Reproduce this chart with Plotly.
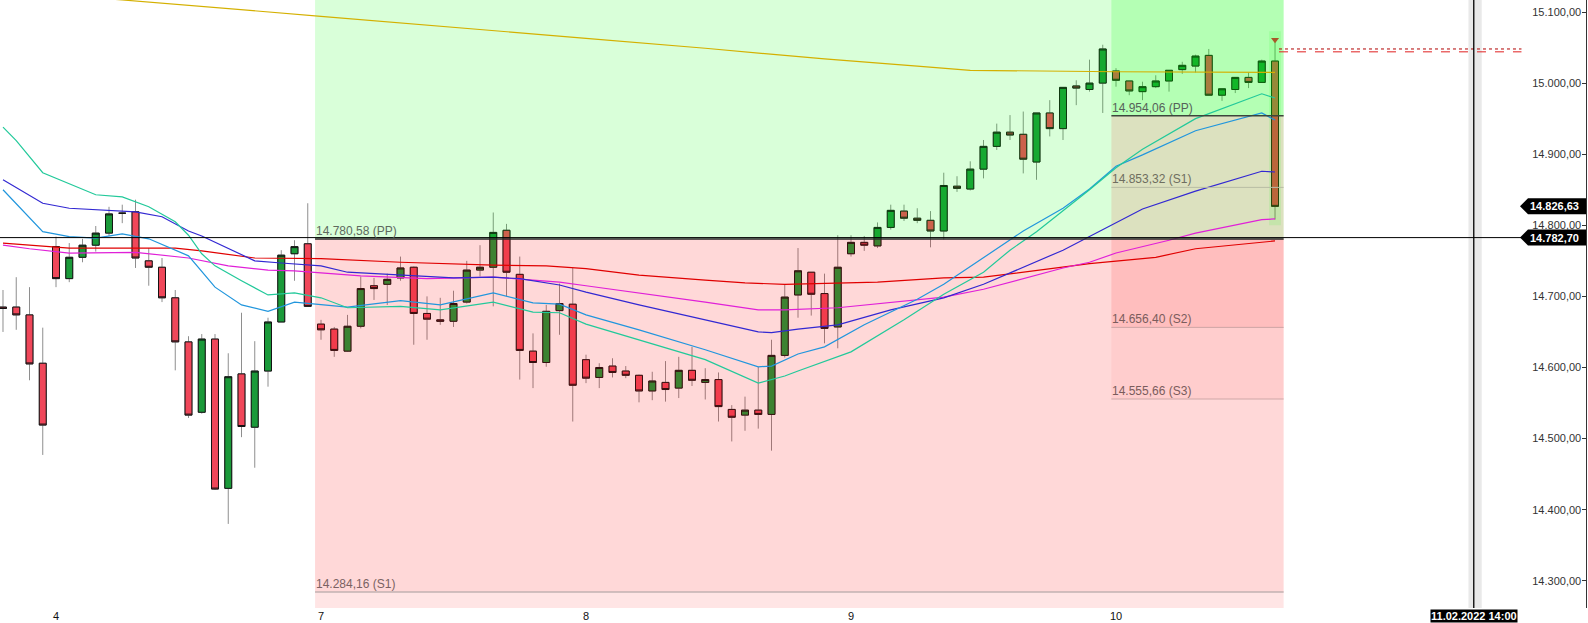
import plotly.graph_objects as go

# ---------------- data ----------------
idx = list(range(97))
opens = [14685, 14685, 14674, 14606, 14770, 14725, 14755, 14772, 14789, 14817,
         14819, 14750, 14741, 14698, 14636, 14537, 14640, 14430, 14591, 14516,
         14595, 14664, 14760, 14774,
         14661, 14654, 14623, 14658, 14715, 14717, 14726, 14741, 14676, 14667,
         14665, 14692, 14737, 14741, 14793, 14731, 14623, 14607, 14680, 14689,
         14611, 14586, 14602, 14595, 14589, 14567, 14579, 14571, 14596, 14579,
         14583, 14541, 14533, 14540, 14534, 14617, 14702, 14734, 14704, 14657,
         14760, 14776, 14771, 14797, 14820, 14810, 14807, 14792, 14855, 14851,
         14879, 14911, 14931, 14928, 14889, 14958, 14936, 14996, 14991, 15000,
         15017, 15003, 14988, 14995, 15003, 15019, 15024, 15039, 14983, 14991,
         15008, 15001, 15031]
highs = [14709, 14727, 14713, 14656, 14784, 14775, 14781, 14799, 14826, 14829,
         14836, 14768, 14754, 14709, 14644, 14647, 14647, 14620, 14677, 14637,
         14670, 14765, 14779, 14831,
         14667, 14657, 14674, 14728, 14726, 14732, 14756, 14742, 14700, 14698,
         14708, 14750, 14772, 14818, 14802, 14756, 14648, 14688, 14718, 14740,
         14618, 14606, 14613, 14602, 14590, 14594, 14609, 14615, 14629, 14599,
         14593, 14547, 14559, 14601, 14639, 14716, 14768, 14734, 14732, 14786,
         14786, 14785, 14804, 14829, 14829, 14824, 14820, 14874, 14869, 14890,
         14920, 14943, 14955, 14960, 14958, 14976, 14994, 15004, 15033, 15054,
         15021, 15003, 15002, 15011, 15018, 15030, 15040, 15048, 14992, 15008,
         15015, 15033, 15061]
lows = [14650, 14653, 14582, 14477, 14713, 14720, 14748, 14763, 14785, 14803,
        14740, 14715, 14692, 14596, 14529, 14535, 14428, 14380, 14502, 14459,
        14573, 14664, 14722, 14686,
        14639, 14615, 14622, 14655, 14695, 14688, 14722, 14632, 14639, 14660,
        14657, 14690, 14728, 14686, 14700, 14583, 14571, 14601, 14646, 14524,
        14578, 14571, 14586, 14585, 14551, 14554, 14552, 14557, 14574, 14555,
        14524, 14496, 14511, 14514, 14483, 14614, 14670, 14673, 14634, 14627,
        14756, 14764, 14768, 14794, 14806, 14803, 14769, 14780, 14847, 14849,
        14866, 14906, 14920, 14873, 14864, 14925, 14920, 14969, 14988, 14958,
        14995, 14983, 14976, 14993, 14988, 15013, 15015, 14983, 14975, 14986,
        14993, 15001, 14808]
closes = [14683, 14674, 14605, 14519, 14725, 14755, 14772, 14789, 14816, 14817,
          14754, 14741, 14698, 14636, 14533, 14640, 14429, 14587, 14517, 14595,
          14664, 14758, 14770, 14686,
          14653, 14624, 14658, 14711, 14711, 14724, 14740, 14676, 14668, 14665,
          14690, 14737, 14741, 14790, 14734, 14624, 14607, 14679, 14690, 14575,
          14585, 14600, 14593, 14589, 14567, 14581, 14569, 14596, 14582, 14583,
          14545, 14530, 14540, 14534, 14617, 14699, 14736, 14703, 14655, 14741,
          14776, 14772, 14797, 14821, 14810, 14807, 14792, 14856, 14852, 14879,
          14911, 14931, 14927, 14893, 14958, 14936, 14994, 14993, 15000, 15048,
          15004, 14989, 14995, 15003, 15018, 15025, 15038, 14983, 14992, 15008,
          15001, 15031, 14826.63]

day_tick_idx = [4, 24, 44, 64, 84]
day_tick_text = ["4", "7", "8", "9", "10"]
price_ticks = [14300, 14400, 14500, 14600, 14700, 14800, 14900, 15000, 15100]

# moving averages (candle index, value)
teal_x = [0, 1, 3, 7, 9, 11, 13, 14, 15, 16, 18, 20, 22, 24, 26, 30, 33, 37, 40, 42,
          44, 48, 53, 57, 59, 60, 64, 68, 71, 74, 76, 78, 82, 84, 86, 90, 95, 96]
teal_y = [14938, 14919, 14874, 14843, 14840, 14826, 14805, 14786, 14760, 14743, 14722,
          14702, 14705, 14698, 14684, 14686, 14681, 14692, 14678, 14677, 14661, 14639,
          14611, 14578, 14588, 14595, 14622, 14667, 14703, 14734, 14765, 14791, 14850,
          14881, 14907, 14950, 14985, 14979]
lblue_x = [0, 3, 5, 7, 9, 11, 14, 16, 18, 20, 22, 24, 26, 30, 33, 37, 40, 42, 44, 48,
           53, 57, 58, 60, 62, 65, 69, 71, 74, 75, 77, 80, 82, 84, 86, 90, 95, 96]
lblue_y = [14850, 14791, 14784, 14782, 14788, 14781, 14757, 14713, 14688, 14679, 14692,
           14689, 14685, 14694, 14688, 14705, 14691, 14689, 14674, 14653, 14625, 14601,
           14602, 14619, 14629, 14660, 14696, 14717, 14754, 14767, 14792, 14824, 14851,
           14883, 14899, 14933, 14958, 14948]
dblue_x = [0, 3, 5, 7, 10, 12, 14, 15, 17, 19, 21, 24, 26, 30, 34, 37, 39, 42, 44, 48,
           53, 57, 58, 60, 63, 67, 71, 74, 80, 82, 84, 86, 90, 95, 96]
dblue_y = [14864, 14831, 14824, 14822, 14819, 14812, 14792, 14785, 14767, 14750, 14747,
           14743, 14734, 14730, 14726, 14727, 14725, 14716, 14706, 14688, 14667, 14650,
           14649, 14654, 14660, 14681, 14698, 14717, 14765, 14784, 14803, 14823, 14848,
           14876, 14875]
magenta_x = [0, 2, 5, 10, 14, 17, 20, 22, 24, 27, 32, 37, 40, 42, 44, 48, 53, 57, 59,
             63, 67, 71, 74, 80, 82, 84, 88, 90, 95, 96]
magenta_y = [14772, 14767, 14761, 14762, 14754, 14743, 14737, 14736, 14733, 14729, 14725,
             14727, 14723, 14720, 14715, 14705, 14692, 14681, 14681, 14684, 14691, 14699,
             14710, 14740, 14748, 14761, 14779, 14789, 14808, 14809]
red_x = [0, 5, 10, 13, 15, 19, 24, 30, 37, 41, 44, 48, 53, 56, 59, 66, 71, 74, 82, 87,
         90, 95, 96]
red_y = [14775, 14768, 14768, 14768, 14764, 14754, 14753, 14748, 14744, 14743, 14739,
         14730, 14723, 14719, 14717, 14720, 14726, 14727, 14746, 14755, 14767, 14777, 14778]
gold_x = [0, 9, 24, 34, 44, 53, 62, 69, 73, 84, 96]
gold_y = [15130, 15117, 15094, 15079, 15063, 15049, 15034, 15024, 15018, 15016, 15015]

# pivot levels
pp_week = 14780.58
s1_week = 14284.16
pp_day = 14954.06
s1_day = 14853.32
s2_day = 14656.40
s3_day = 14555.66
zone_week = (23.55, 96.65)
zone_day = (83.65, 96.65)

cross_price = 14782.70
cross_idx = 111
cross_label = "11.02.2022 14:00"
ref_levels = [15048, 15044]
ref_span = (96.3, 114.6)

# ---------------- styling ----------------
Y_TOP, Y_BOT = 15116.9, 14261.7
X_LEFT, X_RIGHT = -0.226, 119.47
GREEN, RED = "#1b9a3a", "#f0475a"
FONT = "Liberation Sans, Arial, sans-serif"


def de(v):
    s = f"{v:,.2f}"
    return s.replace(",", "X").replace(".", ",").replace("X", ".")


fig = go.Figure()

# wicks
fig.add_trace(go.Candlestick(
    x=idx, open=opens, high=highs, low=lows, close=closes,
    increasing=dict(line=dict(color="#8e8e8e", width=1), fillcolor="#8e8e8e"),
    decreasing=dict(line=dict(color="#8e8e8e", width=1), fillcolor="#8e8e8e"),
    whiskerwidth=0, hoverinfo="skip", showlegend=False))
# bodies
body_hi = [max(o, c) for o, c in zip(opens, closes)]
body_lo = [min(o, c) for o, c in zip(opens, closes)]
fig.add_trace(go.Candlestick(
    x=idx, open=opens, high=body_hi, low=body_lo, close=closes,
    increasing=dict(line=dict(color="#121212", width=1), fillcolor=GREEN),
    decreasing=dict(line=dict(color="#121212", width=1), fillcolor=RED),
    whiskerwidth=0, hoverinfo="skip", showlegend=False))

# translucent pivot zones (scatter layer sits above the candles, below the MA lines)
z0, z1 = zone_week
d0, d1 = zone_day
zones = [
    (z0, z1, pp_week, Y_TOP, "rgba(0,255,0,0.15)"),
    (z0, z1, s1_week, pp_week, "rgba(255,0,0,0.153)"),
    (z0, z1, Y_BOT, s1_week, "rgba(255,0,0,0.10)"),
    (d0, d1, pp_day, Y_TOP, "rgba(0,255,0,0.17)"),
    (d0, d1, s2_day, pp_day, "rgba(255,0,0,0.065)"),
    (d0, d1, s3_day, pp_day, "rgba(255,0,0,0.05)"),
    (idx[-1] - 0.45, idx[-1] + 0.45, lows[-1] - 8, highs[-1] + 12, "rgba(0,255,0,0.10)"),
]
for xa, xb, ya, yb, col in zones:
    fig.add_trace(go.Scatter(x=[xa, xb, xb, xa, xa], y=[ya, ya, yb, yb, ya], mode="none",
                             fill="toself", fillcolor=col, hoverinfo="skip", showlegend=False))

for xs, ys, col in [(gold_x, gold_y, "#d4b000"), (red_x, red_y, "#e00000"),
                    (magenta_x, magenta_y, "#e020d8"), (dblue_x, dblue_y, "#3228d2"),
                    (lblue_x, lblue_y, "#2196dd"), (teal_x, teal_y, "#22c99a")]:
    fig.add_trace(go.Scatter(x=xs, y=ys, mode="lines", line=dict(color=col, width=1.2),
                             hoverinfo="skip", showlegend=False))

# marker above last candle
fig.add_trace(go.Scatter(x=[idx[-1]], y=[highs[-1]], mode="markers",
                         marker=dict(symbol="triangle-down", size=7, color="#a8582a"),
                         hoverinfo="skip", showlegend=False))

shapes = []
# crosshair band
shapes.append(dict(type="rect", xref="x", yref="paper", x0=cross_idx - 0.4, x1=cross_idx + 0.6,
                   y0=0, y1=1, fillcolor="#e9e9e9", line=dict(width=0), layer="below"))


def hline(x0, x1, y, color, width=1, dash="solid"):
    return dict(type="line", xref="x", yref="y", x0=x0, x1=x1, y0=y, y1=y,
                line=dict(color=color, width=width, dash=dash), layer="above")


shapes += [
    hline(z0, z1, pp_week, "#2a2a2a", 1.5),
    hline(z0, z1, s1_week, "#c2b2b2", 1.5),
    hline(d0, d1, pp_day, "#3c463c", 1.5),
    hline(d0, d1, s1_day, "#b8bca4", 1),
    hline(d0, d1, s2_day, "#cfa6a6", 1),
    hline(d0, d1, s3_day, "#cfa6a6", 1),
    hline(ref_span[0], ref_span[1], ref_levels[0], "#b00000", 1, "dot"),
    hline(ref_span[0], ref_span[1], ref_levels[1], "#e02020", 1, "dash"),
]
# crosshair
shapes.append(dict(type="line", xref="paper", yref="y", x0=0, x1=0.96, y0=cross_price, y1=cross_price,
                   line=dict(color="#000000", width=1), layer="above"))
shapes.append(dict(type="line", xref="x", yref="paper", x0=cross_idx, x1=cross_idx, y0=0, y1=1,
                   line=dict(color="#000000", width=1.3), layer="above"))
# price tags
for v in [closes[-1], cross_price]:
    shapes.append(dict(type="path", xref="paper", yref="y", xsizemode="pixel", ysizemode="pixel",
                       xanchor=1, yanchor=v,
                       path="M -66,0 L -58,8 L 0,8 L 0,-8 L -58,-8 Z",
                       fillcolor="#000000", line=dict(width=0), layer="above"))

annotations = []


def level_label(x, y, text, color):
    return dict(x=x, y=y, xref="x", yref="y", text=text, showarrow=False, xanchor="left",
                yanchor="bottom", borderpad=0, font=dict(family=FONT, size=12, color=color))


annotations += [
    level_label(z0, pp_week, de(pp_week) + " (PP)", "#5e6a5e"),
    level_label(z0, s1_week, de(s1_week) + " (S1)", "#7a6262"),
    level_label(d0, pp_day, de(pp_day) + " (PP)", "#56625a"),
    level_label(d0, s1_day, de(s1_day) + " (S1)", "#6e6e60"),
    level_label(d0, s2_day, de(s2_day) + " (S2)", "#7a5c5c"),
    level_label(d0, s3_day, de(s3_day) + " (S3)", "#7a5c5c"),
]
for v in [closes[-1], cross_price]:
    annotations.append(dict(x=1, y=v, xref="paper", yref="y", text="<b>" + de(v) + "</b>",
                            showarrow=False, xanchor="right", yanchor="middle", xshift=-5,
                            font=dict(family=FONT, size=11, color="#ffffff")))
annotations.append(dict(x=cross_idx, y=0, xref="x", yref="paper", text="<b>" + cross_label + "</b>",
                        showarrow=False, xanchor="center", yanchor="top", yshift=-1,
                        bgcolor="#000000", borderpad=0,
                        font=dict(family=FONT, size=11, color="#ffffff")))

fig.update_layout(
    width=1588, height=623,
    margin=dict(l=0, r=2, t=0, b=15),
    paper_bgcolor="white", plot_bgcolor="white",
    showlegend=False, hovermode=False, separators=",.",
    boxgap=0.25,
    font=dict(family=FONT, size=11, color="#222222"),
    shapes=shapes, annotations=annotations,
)
fig.update_xaxes(range=[X_LEFT, X_RIGHT], tickvals=day_tick_idx, ticktext=day_tick_text,
                 showgrid=False, zeroline=False, ticks="", rangeslider=dict(visible=False),
                 tickfont=dict(family=FONT, size=11, color="#111111"))
fig.update_yaxes(range=[Y_BOT, Y_TOP], side="right", ticklabelposition="inside", ticks="inside",
                 ticklen=4, tickcolor="#333333", showline=True, linecolor="#333333", linewidth=1,
                 tickvals=price_ticks, tickformat=",.2f", showgrid=False, zeroline=False,
                 tickfont=dict(family=FONT, size=11, color="#333333"))

fig.write_html("out.html", config={"displayModeBar": False},
               post_script="document.body.style.margin='0px';document.body.style.overflow='hidden';")
